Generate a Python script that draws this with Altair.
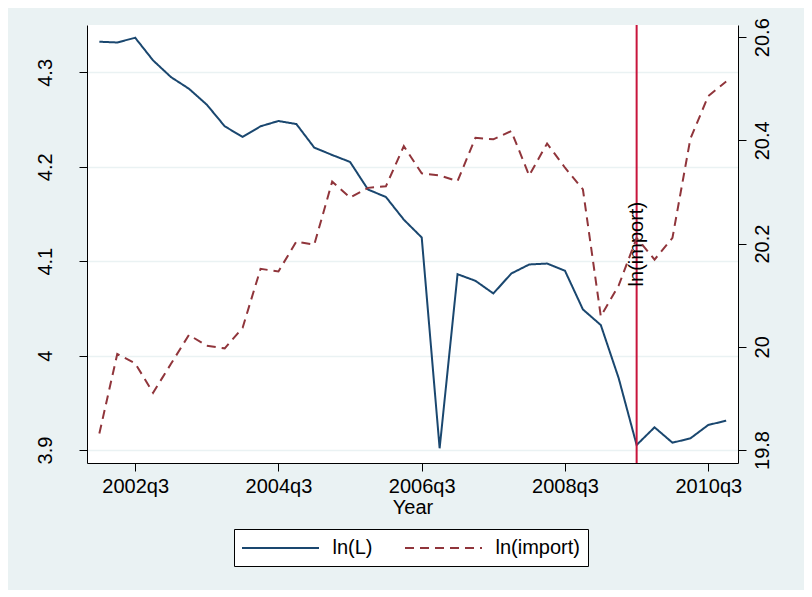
import altair as alt
import pandas as pd

quarters = ["2002q1", "2002q2", "2002q3", "2002q4", "2003q1", "2003q2", "2003q3", "2003q4",
            "2004q1", "2004q2", "2004q3", "2004q4", "2005q1", "2005q2", "2005q3", "2005q4",
            "2006q1", "2006q2", "2006q3", "2006q4", "2007q1", "2007q2", "2007q3", "2007q4",
            "2008q1", "2008q2", "2008q3", "2008q4", "2009q1", "2009q2", "2009q3", "2009q4",
            "2010q1", "2010q2", "2010q3", "2010q4"]

ln_L = [4.3325, 4.3317, 4.3367, 4.3127, 4.2950, 4.2827, 4.2658, 4.2429, 4.2316, 4.2429,
        4.2485, 4.2453, 4.2203, 4.2125, 4.2051, 4.1759, 4.1680, 4.1440, 4.1251, 3.9018,
        4.0862, 4.0792, 4.0658, 4.0869, 4.0965, 4.0975, 4.0898, 4.0489, 4.0323, 3.9759,
        3.9053, 3.9240, 3.9077, 3.9123, 3.9265, 3.9310]

ln_import = [19.832, 19.986, 19.968, 19.911, 19.967, 20.023, 20.002, 19.997, 20.037, 20.151,
             20.146, 20.204, 20.198, 20.320, 20.289, 20.308, 20.311, 20.389, 20.336, 20.332,
             20.321, 20.405, 20.402, 20.418, 20.332, 20.394, 20.347, 20.305, 20.059, 20.119,
             20.211, 20.169, 20.211, 20.403, 20.486, 20.514]

series_names = ["ln(L)", "ln(import)"]
series_colors = ["#1a476f", "#90353b"]
x_tick_quarters = ["2002q3", "2004q3", "2006q3", "2008q3", "2010q3"]
left_ticks = [3.9, 4.0, 4.1, 4.2, 4.3]
right_ticks = [19.8, 20.0, 20.2, 20.4, 20.6]
event_quarter = "2009q3"
annotation_text = "ln(import)"
annotation_value = 4.118

idx = {q: i for i, q in enumerate(quarters)}
dfL = pd.DataFrame({"t": list(range(len(quarters))), "quarter": quarters,
                    "value": ln_L, "series": series_names[0]})
dfI = pd.DataFrame({"t": list(range(len(quarters))), "quarter": quarters,
                    "value": ln_import, "series": series_names[1]})
dfEvent = pd.DataFrame({"t": [idx[event_quarter]], "value": [annotation_value],
                        "label": [annotation_text]})

tick_vals = [idx[q] for q in x_tick_quarters]
label_expr = "".join(f"datum.value == {v} ? '{q}' : " for v, q in zip(tick_vals, x_tick_quarters)) + "''"

FONT = "Liberation Sans"

x_enc = alt.X("t:Q",
              scale=alt.Scale(domain=[-0.69, 35.66], nice=False, zero=False),
              axis=alt.Axis(values=tick_vals, labelExpr=label_expr, title="Year",
                            grid=False, tickSize=8, labelPadding=5, titlePadding=1,
                            labelFlush=False, labelOverlap=False))

color_enc = alt.Color("series:N",
                      scale=alt.Scale(domain=series_names, range=series_colors),
                      legend=alt.Legend(title=None))
dash_enc = alt.StrokeDash("series:N",
                          scale=alt.Scale(domain=series_names, range=[[1, 0], [9, 6]]),
                          legend=alt.Legend(title=None))

lineL = alt.Chart(dfL).mark_line(strokeWidth=2).encode(
    x=x_enc,
    y=alt.Y("value:Q",
            scale=alt.Scale(domain=[3.8862, 4.3502], nice=False, zero=False),
            axis=alt.Axis(orient="left", values=left_ticks, title=None, grid=True,
                          tickSize=8, labelAngle=270, labelAlign="center",
                          labelBaseline="alphabetic", labelPadding=28,
                          labelExpr="format(datum.value, '.2~f')")),
    color=color_enc,
    strokeDash=dash_enc,
)

rule = alt.Chart(dfEvent).mark_rule(color="#c8153c", strokeWidth=2).encode(
    x=alt.X("t:Q")
)

text = alt.Chart(dfEvent).mark_text(angle=270, font=FONT, fontSize=20,
                                    align="center", baseline="middle", color="black").encode(
    x=alt.X("t:Q"),
    y=alt.Y("value:Q"),
    text="label:N",
)

lineI = alt.Chart(dfI).mark_line(strokeWidth=2).encode(
    x=x_enc,
    y=alt.Y("value:Q",
            scale=alt.Scale(domain=[19.7748, 20.6236], nice=False, zero=False),
            axis=alt.Axis(orient="right", values=right_ticks, title=None, grid=False,
                          tickSize=8, labelAngle=270, labelAlign="center",
                          labelBaseline="top", labelPadding=6,
                          labelExpr="format(datum.value, '.2~f')")),
    color=color_enc,
    strokeDash=dash_enc,
)

chart = alt.layer(alt.layer(lineL, rule, text), lineI).resolve_scale(
    y="independent"
).properties(
    width=651, height=438,
    autosize=alt.AutoSizeParams(type="none"),
    padding={"left": 79, "top": 17, "right": 66, "bottom": 127},
    background="#eaf2f3",
).configure(font=FONT).configure_view(
    fill="white", strokeWidth=0
).configure_axis(
    domainColor="#000000", tickColor="#000000", labelColor="#000000", titleColor="#000000",
    labelFont=FONT, titleFont=FONT, labelFontSize=20, titleFontSize=20,
    titleFontWeight="normal", gridColor="#eaf2f3", gridWidth=1.5, domainWidth=1, tickWidth=1,
).configure_legend(
    orient="none", legendX=147, legendY=504, direction="horizontal",
    fillColor="white", strokeColor="#000000", padding=8,
    labelFont=FONT, labelFontSize=20, labelColor="#000000",
    symbolType="M-4,0L4,0", symbolStrokeWidth=2, symbolSize=370.6,
    symbolOffset=27.5, labelOffset=41, columnPadding=27,
)

chart.save("out.html", embed_options={"renderer": "svg", "actions": False})
